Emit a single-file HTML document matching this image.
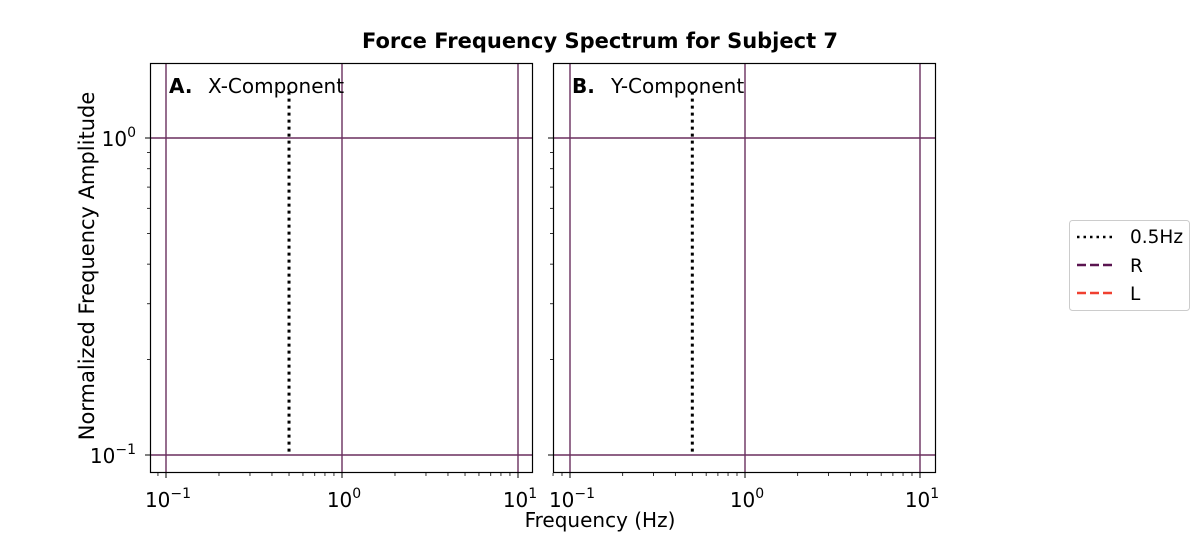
<!DOCTYPE html>
<html><head><meta charset="utf-8"><style>
body{margin:0;background:#fff;}
svg text{font-family:"DejaVu Sans","Liberation Sans",sans-serif;}
</style></head><body>
<svg id="c" width="1200" height="532" xmlns="http://www.w3.org/2000/svg">
<text x="600" y="48" text-anchor="middle" font-size="21" font-weight="bold">Force Frequency Spectrum for Subject 7</text>
<text x="600" y="527" text-anchor="middle" font-size="20">Frequency (Hz)</text>
<text transform="translate(94,266) rotate(-90)" text-anchor="middle" font-size="21">Normalized Frequency Amplitude</text>
<g>
<rect x="1069.5" y="220.5" width="120" height="90" rx="3" fill="#fff" stroke="#ccc"/>
<g><line x1="1077" y1="237" x2="1113" y2="237" stroke="#000" stroke-width="2.5" stroke-dasharray="2.5,4"/><text x="1130" y="243" font-size="18.5">0.5Hz</text></g>
<g><line x1="1077" y1="265" x2="1113" y2="265" stroke="#5a1450" stroke-width="2.5" stroke-dasharray="9,4"/><text x="1130" y="272" font-size="18.5">R</text></g>
<g><line x1="1077" y1="293" x2="1113" y2="293" stroke="#f04030" stroke-width="2.5" stroke-dasharray="9,4"/><text x="1130" y="300" font-size="18.5">L</text></g>
</g>
</svg>
<script>
const xTickExps=[-1,0,1];
const yTickExps=[-1,0];
const markerFreq=[0.5];
const markerRange=[0.1,1.4];
const panelTitles=["X-Component","Y-Component"];
const panelLetters=["A.","B."];
const svg=document.getElementById('c');
const NS='http://www.w3.org/2000/svg';
function mk(t,a,p){const e=document.createElementNS(NS,t);for(const k in a)e.setAttribute(k,a[k]);(p||svg).appendChild(e);return e;}
const panels=[{x0:150,x1:533,d0:166,dec:176},{x0:553,x1:936,d0:570,dec:175}];
const yTop=63,yBot=473;
function ys(v){return 455-317*(Math.log10(v)+1);}
panels.forEach((p,i)=>{
  const xs=v=>p.d0+p.dec*(Math.log10(v)+1);
  const g=mk('g',{});
  
  
  xTickExps.forEach(e=>{const x=xs(Math.pow(10,e));
    const l=mk('line',{x1:x,x2:x,y1:yTop,y2:yBot,stroke:'#6a2f5e','stroke-width':1.4},g);
    
    mk('line',{x1:x,x2:x,y1:yBot,y2:yBot+5,stroke:'#000'},g);
    const t=mk('text',{x:x+2,y:yBot+34,'text-anchor':'middle','font-size':20},g);
    
    t.innerHTML='10<tspan dy="-9" font-size="14">'+(e<0?'\u2212'+(-e):e)+'</tspan>';
  });
  for(let e=-2;e<=1;e++)for(let k=2;k<10;k++){const x=xs(k*Math.pow(10,e));if(x>p.x0&&x<p.x1)mk('line',{x1:x,x2:x,y1:yBot,y2:yBot+3,stroke:'#000','stroke-width':0.8},g);}
  yTickExps.forEach(e=>{const y=ys(Math.pow(10,e));
    const l=mk('line',{x1:p.x0,x2:p.x1,y1:y,y2:y,stroke:'#6a2f5e','stroke-width':1.4},g);
    
    mk('line',{x1:p.x0-5,x2:p.x0,y1:y,y2:y,stroke:'#000'},g);
    if(i===0){const t=mk('text',{x:p.x0-14,y:y+8,'text-anchor':'end','font-size':20},g);
      
      t.innerHTML='10<tspan dy="-9" font-size="14">'+(e<0?'\u2212'+(-e):e)+'</tspan>';}
  });
  for(let k=2;k<10;k++){const y=ys(k*0.1);mk('line',{x1:p.x0-3,x2:p.x0,y1:y,y2:y,stroke:'#000','stroke-width':0.8},g);}
  markerFreq.forEach(f=>{const x=xs(f);
    const l=mk('line',{x1:x,x2:x,y1:ys(markerRange[1]),y2:ys(markerRange[0]),stroke:'#000','stroke-width':3,'stroke-dasharray':'3,4'},g);
    });
  mk('rect',{x:p.x0+0.5,y:yTop+0.5,width:p.x1-p.x0-1,height:yBot-yTop-1,fill:'none',stroke:'#000','stroke-width':1.2},g);
  const t1=mk('text',{x:p.x0+19,y:93,'font-size':20,'font-weight':'bold'},g);t1.textContent=panelLetters[i];
  
  const t2=mk('text',{x:p.x0+58,y:93,'font-size':20},g);t2.textContent=panelTitles[i];
  
});
</script>
</body></html>
